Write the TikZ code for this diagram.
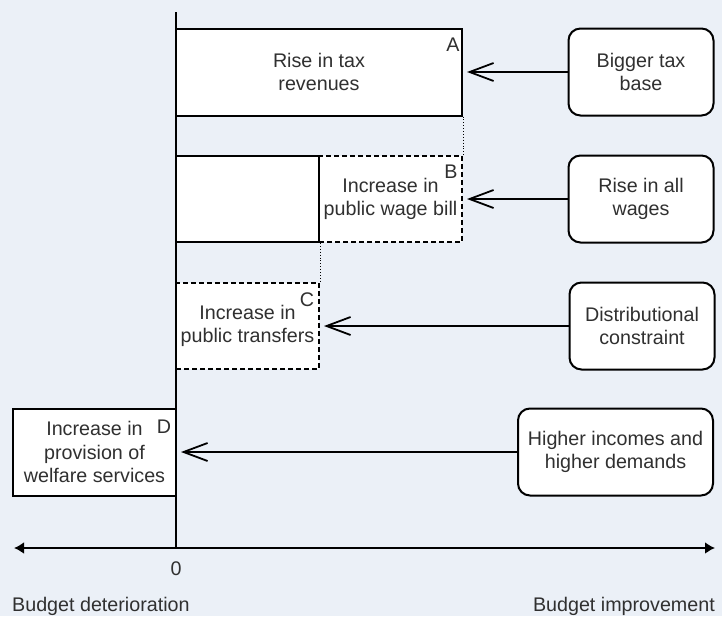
\documentclass[tikz,border=0pt]{standalone}
\usepackage{fontspec}
\setmainfont{Liberation Sans}
\usetikzlibrary{arrows.meta}
\definecolor{bgcol}{RGB}{235,240,247}
\definecolor{txtcol}{RGB}{48,48,48}

\begin{document}
\begin{tikzpicture}[x=1pt,y=-1pt,
  font=\fontsize{19.7}{23.6}\selectfont, text=txtcol,
  effect/.style={draw, line width=2pt, fill=white, align=center, inner sep=0pt},
  extra/.style={effect, dash pattern=on 5pt off 3pt},
  cause/.style={draw, line width=2pt, fill=white, rounded corners=12pt, align=center, inner sep=0pt, minimum width=145, minimum height=87},
  push/.style={line width=1.8pt, -{Straight Barb[length=24pt,width=18pt]}, shorten >=4pt},
  gap/.style={dotted, line width=0.9pt},
  tag/.style={inner sep=0pt}]
\fill[bgcol] (0,0) rectangle (722,616);
\useasboundingbox (0,0) rectangle (722,616);
\node[effect, minimum width=286, minimum height=87] (revA) at (319,72) {Rise in tax\\revenues};
\node[extra, minimum width=143, minimum height=86] (wageB) at (390.5,199) {Increase in\\public wage bill};
\node[effect, minimum width=143, minimum height=86] (fixB) at (247.5,199) {};
\node[extra, minimum width=143, minimum height=86] (transC) at (247.5,326) {Increase in\\public transfers};
\node[effect, minimum width=163, minimum height=87] (welfD) at (94.5,452) {Increase in\\provision of\\welfare services};
\draw[gap] (revA.south east) -- (wageB.north east);
\draw[gap] (fixB.south east) -- (transC.north east);
\node[tag] at ([shift={(-10,17)}]revA.north east) {A};
\node[tag] at ([shift={(-12,17)}]wageB.north east) {B};
\node[tag] at ([shift={(-13,18)}]transC.north east) {C};
\node[tag] at ([shift={(-13,19)}]welfD.north east) {D};
\coordinate (top) at (176,12);
\coordinate (origin) at (176,548);
\coordinate (left) at (14,548);
\coordinate (right) at (715,548);
\draw[line width=2pt] (top) -- (origin);
\draw[line width=2pt, {Latex[length=10pt,width=12pt]}-{Latex[length=10pt,width=12pt]}] (left) -- (right);
\node[cause] (taxbase) at (641,72) {Bigger tax\\base};
\node[cause] (wages) at (641,199) {Rise in all\\wages};
\node[cause] (distrib) at (642,326) {Distributional\\constraint};
\node[cause, minimum width=195] (demand) at (615.5,452) {Higher incomes and\\higher demands};
\draw[push] (taxbase) -- (revA);
\draw[push] (wages) -- (wageB);
\draw[push] (distrib) -- (transC);
\draw[push] (demand) -- (welfD);
\node[tag, anchor=base] (zero) at (176,575) {0};
\node[tag, anchor=base west] (worse) at (12,611) {Budget deterioration};
\node[tag, anchor=base east] (better) at (715,611) {Budget improvement};
\end{tikzpicture}
\end{document}
